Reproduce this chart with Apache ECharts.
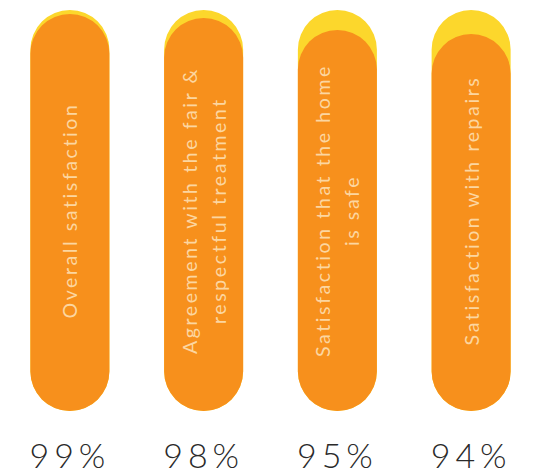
<!DOCTYPE html>
<html>
<head>
<meta charset="utf-8">
<script src="https://cdn.jsdelivr.net/npm/echarts@6/dist/echarts.min.js"></script>
<style>
  html, body { margin: 0; padding: 0; background: #fff; }
  #chart { width: 538px; height: 473px; }
  /* wide tracking like the original artwork */
  #chart text { letter-spacing: 2.6px; }
  #chart text[style*="34px"] { letter-spacing: 5px; }
</style>
</head>
<body>
<div id="chart"></div>
<script>
var categories = [
  'Overall satisfaction',
  'Agreement with the fair &\nrespectful treatment',
  'Satisfaction that the home\nis safe',
  'Satisfaction with repairs'
];
var values = [99, 98, 95, 94];
var fullScale = [100, 100, 100, 100];

var chart = echarts.init(document.getElementById('chart'), null, { renderer: 'svg' });

chart.setOption({
  animation: false,
  backgroundColor: '#ffffff',
  grid: {
    left: 3,
    right: -7,
    top: 10,
    bottom: 62
  },
  xAxis: {
    type: 'category',
    data: categories,
    axisLine: { show: false },
    axisTick: { show: false },
    axisLabel: {
      margin: 26,
      fontSize: 34,
      fontWeight: 300,
      fontFamily: 'Lato',
      lineHeight: 34,
      color: '#2a2a2a',
      formatter: function (v, i) {
        return values[i] + '%';
      }
    }
  },
  yAxis: {
    type: 'value',
    min: 0,
    max: 100,
    show: false
  },
  series: [
    {
      // 背景 100%
      type: 'bar',
      data: fullScale,
      barWidth: 79,
      barGap: '-100%',
      silent: true,
      itemStyle: { color: '#fcd72c', borderRadius: 40 }
    },
    {
      type: 'bar',
      data: values,
      barWidth: 79,
      barGap: '-100%',
      silent: true,
      itemStyle: { color: '#f7901c', borderRadius: 40 }
    },
    {
      // label carrier, centred on the full pill
      type: 'bar',
      data: fullScale,
      barWidth: 79,
      barGap: '-100%',
      silent: true,
      z: 5,
      itemStyle: { color: 'transparent' },
      label: {
        show: true,
        position: 'inside',
        rotate: 90,
        fontSize: 19.5,
        fontWeight: 400,
        fontFamily: 'Lato',
        lineHeight: 29,
        color: '#fcd6a0',
        formatter: function (p) {
          return categories[p.dataIndex];
        }
      }
    }
  ]
});
</script>
</body>
</html>
